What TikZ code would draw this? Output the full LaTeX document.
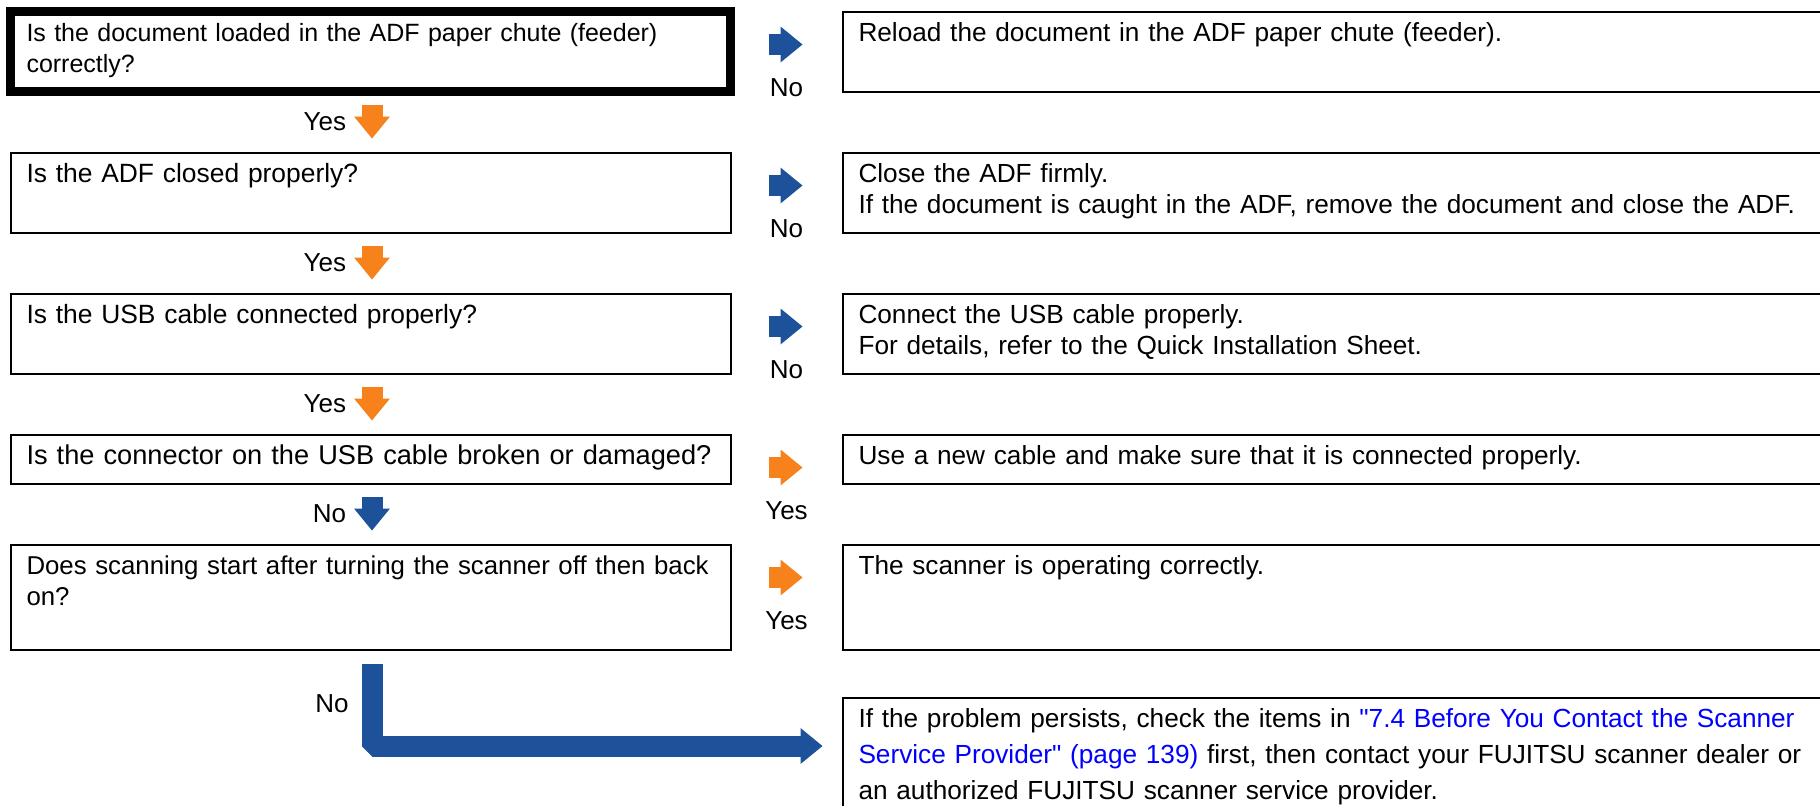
\documentclass[tikz,border=0pt]{standalone}
\usepackage{fontspec}
\setmainfont{Liberation Sans}
\usetikzlibrary{positioning,arrows.meta,calc}
\definecolor{flowblue}{RGB}{29,82,155}
\definecolor{floworange}{RGB}{247,130,28}
\definecolor{linkblue}{RGB}{0,0,255}
\tikzset{
  qbox/.style={draw=black, line width=1pt, anchor=north west, outer sep=0pt,
    text width=344pt, inner xsep=8pt, inner ysep=0pt, align=left,
    text height=14.75pt, font=\fontsize{13.2pt}{15.5pt}\selectfont},
  abox/.style={qbox, text width=478pt, font=\fontsize{13.1pt}{15.5pt}\selectfont},
  rowA/.style={text depth=25.25pt},
  rowB/.style={text depth=9.75pt},
  rowC/.style={text depth=37.75pt},
  rowD/.style={text depth=41.25pt},
  blockarrow/.style={line width=10.5pt,
    -{Triangle[length=11pt,width=18pt,line width=0pt]}},
  noarrow/.style={blockarrow, draw=flowblue},
  yesarrow/.style={blockarrow, draw=floworange},
  lbl/.style={inner sep=0pt, font=\fontsize{13pt}{15.5pt}\selectfont}
}

\begin{document}
\begin{tikzpicture}[x=0.5pt, y=-0.5pt, node distance=30.5pt and 56pt]
  \useasboundingbox (0,0) rectangle (1820,805);

  % questions
  \node[qbox, rowA, line width=4.5pt, font=\fontsize{12.5pt}{15.5pt}\selectfont] (q1) at (10.5,11.5)
    {Is the document loaded in the ADF paper chute (feeder)\\ correctly?};
  \node[qbox, rowA, below=of q1] (q2) {Is the ADF closed properly?};
  \node[qbox, rowA, below=of q2] (q3) {Is the USB cable connected properly?};
  \node[qbox, rowB, below=of q3, font=\fontsize{13.6pt}{15.5pt}\selectfont] (q4)
    {Is the connector on the USB cable broken or damaged?};
  \node[qbox, rowC, below=of q4, font=\fontsize{12.9pt}{15.5pt}\selectfont] (q5)
    {Does scanning start after turning the scanner off then back\\ on?};

  % answers
  \node[abox, rowA, right=of q1] (a1) {Reload the document in the ADF paper chute (feeder).};
  \node[abox, rowA, right=of q2] (a2)
    {Close the ADF firmly.\\ If the document is caught in the ADF, remove the document and close the ADF.};
  \node[abox, rowA, right=of q3] (a3)
    {Connect the USB cable properly.\\ For details, refer to the Quick Installation Sheet.};
  \node[abox, rowB, right=of q4] (a4) {Use a new cable and make sure that it is connected properly.};
  \node[abox, rowC, right=of q5] (a5) {The scanner is operating correctly.};
  \node[abox, rowD, below=24pt of a5, font=\fontsize{13.1pt}{18pt}\selectfont] (a6)
    {If the problem persists, check the items in \textcolor{linkblue}{\textquotedbl 7.4 Before You Contact the Scanner}\\
     \textcolor{linkblue}{Service Provider\textquotedbl\ (page 139)} first, then contact your FUJITSU scanner dealer or\\
     an authorized FUJITSU scanner service provider.};

  % down the left column
  \draw[yesarrow, shorten <=6.75pt, shorten >=7pt] ([xshift=0.75pt]q1.south) -- node[lbl, left=7.75pt] {Yes} ([xshift=0.75pt]q2.north);
  \draw[yesarrow, shorten <=6.75pt, shorten >=7pt] ([xshift=0.75pt]q2.south) -- node[lbl, left=7.75pt] {Yes} ([xshift=0.75pt]q3.north);
  \draw[yesarrow, shorten <=6.75pt, shorten >=7pt] ([xshift=0.75pt]q3.south) -- node[lbl, left=7.75pt] {Yes} ([xshift=0.75pt]q4.north);
  \draw[noarrow, shorten <=6.75pt, shorten >=7pt] ([xshift=0.75pt]q4.south) -- node[lbl, left=7.75pt] {No} ([xshift=0.75pt]q5.north);

  % across to the answers
  \draw[noarrow, shorten <=19pt, shorten >=20pt] ($(q1.north east)+(0,33)$) -- node[lbl, yshift=-21.75pt] {No} ($(a1.north west)+(0,33)$);
  \draw[noarrow, shorten <=19pt, shorten >=20pt] ($(q2.north east)+(0,33)$) -- node[lbl, yshift=-21.75pt] {No} ($(a2.north west)+(0,33)$);
  \draw[noarrow, shorten <=19pt, shorten >=20pt] ($(q3.north east)+(0,33)$) -- node[lbl, yshift=-21.75pt] {No} ($(a3.north west)+(0,33)$);
  \draw[yesarrow, shorten <=19pt, shorten >=20pt] ($(q4.north east)+(0,33)$) -- node[lbl, yshift=-21.75pt] {Yes} ($(a4.north west)+(0,33)$);
  \draw[yesarrow, shorten <=19pt, shorten >=20pt] ($(q5.north east)+(0,33)$) -- node[lbl, yshift=-21.75pt] {Yes} ($(a5.north west)+(0,33)$);

  % last resort
  \draw[noarrow, line join=bevel, shorten <=7pt, shorten >=10pt] ([xshift=1pt]q5.south) |- node[lbl, pos=0.28, left=6.75pt] {No} ([yshift=3.75pt]a6.west);
\end{tikzpicture}
\end{document}
